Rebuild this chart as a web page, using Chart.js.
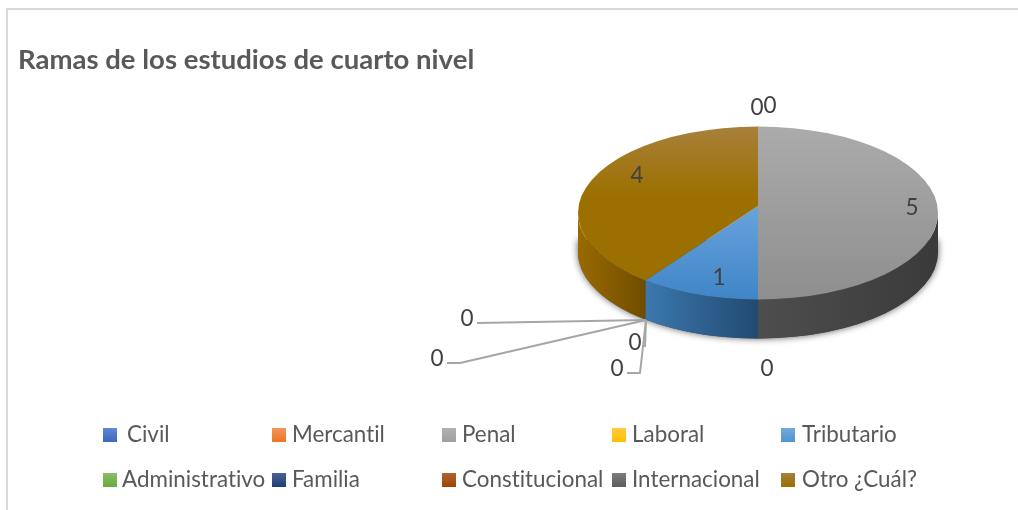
<!DOCTYPE html>
<html><head><meta charset="utf-8">
<style>html,body{margin:0;padding:0;background:#fff}canvas{display:block}</style>
<script src="https://cdn.jsdelivr.net/npm/chart.js@4"></script>
</head><body>
<div style="width:1018px;height:510px"><canvas id="c" width="1018" height="510"></canvas></div>
<script>
const titleText = 'Ramas de los estudios de cuarto nivel';
const categories = ['Civil','Mercantil','Penal','Laboral','Tributario','Administrativo','Familia','Constitucional','Internacional','Otro ¿Cuál?'];
const values = [0,0,5,0,1,0,0,0,0,4];
const colors = ['#3a68c0','#ed7420','#a0a0a0','#ffc000','#4f93d3','#6aaa3c','#1f3d74','#9e4404','#5c5c5c','#997000'];
const lightColors = ['#6088d2','#f29560','#b0b0b0','#ffca3f','#74a9dc','#8bbc6a','#4a6394','#ad6534','#7d7d7d','#a8803b'];

// Layout constants of the pseudo-3D drawing
const G = {cx:758, cy:213, apexY:206, R:180, k:0.4806, depth:39};
const labelPos = [[757,108],[770,106],[912,208],[767,369],[719,278],[617,369],[635,343],[437,359],[467,319],[637,176]];
const leaders = {5:[[646,320],[640,373],[627,373]],6:[[646,320],[645,347]],7:[[646,320],[460,363],[447,363]],8:[[646,320],[477,323]]};
const legendCols = [103,272,442,612,781], legendRows = [428,473];
const legendTextX = [127,292,462,632,802,122,292,462,632,802];
const topStops = {2:[[127,'#ababab'],[300,'#8e8e8e']],4:[[206,'#69a3dc'],[300,'#3f85c7']],9:[[127,'#a8803b'],[195,'#9c7000'],[285,'#9c7000']]};
const wallStops = {2:['#4e4e4e','#3a3a3a'],4:['#3c78ae','#214a72'],9:['#9a6a00','#6f4d00']};
const ZOOM_R = 240;

function rimParam(theta){
  const d=(G.apexY-G.cy)/(G.R*G.k), s=Math.sin(theta), c=Math.cos(theta);
  const u=-d*s+Math.sqrt(d*d*s*s-d*d+1);
  return Math.atan2(u*s+d,u*c);
}
const pie3d = {
  id:'pie3d',
  beforeDraw(chart){
    const x=chart.ctx;
    x.letterSpacing='0.01px';
    x.save();
    x.strokeStyle='#d9d9d9'; x.lineWidth=2;
    x.beginPath(); x.moveTo(7,510); x.lineTo(7,9); x.lineTo(1018,9); x.stroke();
    x.restore();
  },
  beforeDatasetsDraw(chart){
    const x=chart.ctx, meta=chart.getDatasetMeta(0), ry=G.R*G.k;
    x.save();
    x.save();
    x.shadowColor='rgba(0,0,0,.65)'; x.shadowBlur=7; x.fillStyle='#444';
    x.beginPath();
    x.ellipse(G.cx,G.cy+G.depth,G.R,ry,0,0,Math.PI);
    x.lineTo(G.cx-G.R,G.cy+G.depth-12);
    x.lineTo(G.cx+G.R,G.cy+G.depth-12);
    x.closePath(); x.fill();
    x.restore();
    meta.data.forEach((arc,i)=>{
      if(!values[i]) return;
      const a0=Math.max(rimParam(arc.startAngle),0);
      let raw=rimParam(arc.endAngle); if(raw<0 && i===9) raw=Math.PI;
      const a1=Math.min(raw<0?raw+Math.PI*2:raw,Math.PI);
      if(a1<=a0) return;
      const xa=G.cx+G.R*Math.cos(a0), xb=G.cx+G.R*Math.cos(a1);
      const g=x.createLinearGradient(xb,0,xa,0);
      g.addColorStop(0,wallStops[i][0]); g.addColorStop(1,wallStops[i][1]);
      x.fillStyle=g;
      x.beginPath();
      x.ellipse(G.cx,G.cy,G.R,ry,0,a0,a1);
      x.ellipse(G.cx,G.cy+G.depth,G.R,ry,0,a1,a0,true);
      x.closePath(); x.fill();
    });
    x.restore();
    const p=meta.data[0];
    x.save();
    x.beginPath(); x.ellipse(G.cx,G.cy,G.R,ry,0,0,Math.PI*2); x.clip();
    x.translate(G.cx,G.apexY); x.scale(1,G.k); x.translate(-p.x,-p.y);
  },
  afterDatasetsDraw(chart){ chart.ctx.restore(); },
  afterDraw(chart){
    const x=chart.ctx; x.save();
    // leader lines
    x.strokeStyle='#a6a6a6'; x.lineWidth=2; x.lineJoin='round';
    Object.values(leaders).forEach(pts=>{
      x.beginPath(); pts.forEach((p,j)=>j?x.lineTo(p[0],p[1]):x.moveTo(p[0],p[1])); x.stroke();
    });
    // data labels
    x.font='22.5px Lato'; x.fillStyle='#404040'; x.textAlign='center'; x.textBaseline='middle';
    values.forEach((v,i)=>x.fillText(String(v),labelPos[i][0],labelPos[i][1]));
    // legend
    x.font='22.4px Lato'; x.fillStyle='#595959'; x.textAlign='left';
    categories.forEach((n,i)=>{
      const mx=legendCols[i%5], my=legendRows[Math.floor(i/5)];
      const g=x.createLinearGradient(0,my,0,my+14);
      g.addColorStop(0,lightColors[i]); g.addColorStop(1,colors[i]);
      x.fillStyle=g; x.fillRect(mx,my,14,14);
      x.fillStyle='#595959';
      x.fillText(n,legendTextX[i],my+7);
    });
    x.restore();
  }
};
new Chart(document.getElementById('c'),{
  type:'pie',
  data:{labels:categories,datasets:[{
    data:values, clip:false, borderWidth:0, radius:ZOOM_R,
    backgroundColor(c){
      const i=c.dataIndex, a=c.chart.chartArea;
      if(!a||!topStops[i]) return colors[i];
      const cy=(a.top+a.bottom)/2, mapY=Y=>cy+(Y-G.apexY)/G.k;
      const st=topStops[i], g=c.chart.ctx.createLinearGradient(0,mapY(st[0][0]),0,mapY(st[st.length-1][0]));
      const span=st[st.length-1][0]-st[0][0];
      st.forEach(s=>g.addColorStop((s[0]-st[0][0])/span,s[1]));
      return g;
    }
  }]},
  options:{
    responsive:false, animation:false, devicePixelRatio:1,
    layout:{padding:{left:18,right:0,top:0,bottom:0}},
    plugins:{
      legend:{display:false}, tooltip:{enabled:false},
      title:{display:true,text:titleText,align:'start',color:'#595959',
        font:{family:'Lato',size:27.5,weight:'bold'},padding:{top:44,bottom:10}}
    }
  },
  plugins:[pie3d]
});
</script>
</body></html>
